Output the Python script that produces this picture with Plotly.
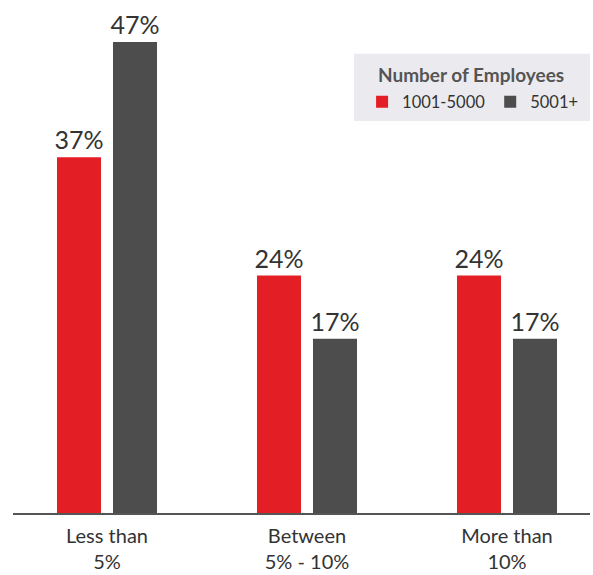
import plotly.graph_objects as go

categories = ["Less than<br>5%", "Between<br>5% - 10%", "More than<br>10%"]
series_names = ["1001-5000", "5001+"]
heights_1001_5000 = [35.5, 23.7, 23.7]
heights_5001 = [47.0, 17.4, 17.4]
labels_1001_5000 = ["37%", "24%", "24%"]
labels_5001 = ["47%", "17%", "17%"]
legend_title = "Number of Employees"
colors = ["#e31e24", "#4d4d4d"]

x = list(range(len(categories)))
fig = go.Figure()
for name, vals, labs, col in [
    (series_names[0], heights_1001_5000, labels_1001_5000, colors[0]),
    (series_names[1], heights_5001, labels_5001, colors[1]),
]:
    fig.add_trace(go.Bar(
        x=x, y=vals, name=name, marker_color=col, marker_line_width=0,
        text=labs, textposition="outside", cliponaxis=False, constraintext="none",
        textfont=dict(size=25, color="#333333", family="Lato"),
    ))

# legend background box
fig.add_shape(type="rect", xref="paper", yref="paper",
              x0=0.591, x1=1.0, y0=0.764, y1=0.895,
              fillcolor="#ebebef", line_width=0, layer="below")
fig.add_annotation(xref="paper", yref="paper", x=0.629, y=0.854,
                   xanchor="left", yanchor="middle", showarrow=False,
                   text="<b>" + legend_title + "</b>",
                   font=dict(size=19, color="#555555", family="Lato"))

fig.update_layout(
    width=593, height=575,
    margin=dict(l=13, r=3, t=0, b=62, autoexpand=False),
    paper_bgcolor="white", plot_bgcolor="white",
    barmode="group", bargap=0.44, bargroupgap=0.214,
    font=dict(family="Lato", color="#333333"),
    xaxis=dict(
        tickmode="array", tickvals=x, ticktext=categories,
        range=[-0.47, 2.415], showline=True, linecolor="#555555", linewidth=2,
        showgrid=False, zeroline=False, ticks="", ticklabelstandoff=4,
        tickfont=dict(size=20, color="#333333", family="Lato"),
    ),
    yaxis=dict(range=[0, 51.2], visible=False, showgrid=False, zeroline=False),
    legend=dict(
        orientation="h", x=0.605, y=0.801, xanchor="left", yanchor="middle",
        bgcolor="rgba(0,0,0,0)", borderwidth=0,
        font=dict(size=16.5, color="#333333", family="Lato"),
        itemwidth=30, traceorder="normal",
    ),
    showlegend=True,
)

fig.write_html("out.html", config={"displayModeBar": False},
               post_script="document.body.style.margin='0';document.body.style.padding='0';")
